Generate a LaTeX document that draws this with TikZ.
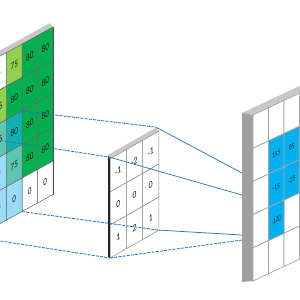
\documentclass[tikz,border=0pt]{standalone}
\usepackage{fontspec}
\setmainfont{Carlito}
\usetikzlibrary{calc}
\definecolor{lgreen}{HTML}{92D050}
\definecolor{dgreen}{HTML}{00B050}
\definecolor{cblue}{HTML}{00B0F0}
\definecolor{tealA}{HTML}{10B0B0}
\definecolor{tealB}{HTML}{5EC6B0}
\definecolor{lblue}{HTML}{9ADCF4}
\definecolor{lineblue}{HTML}{2E75B6}
\definecolor{topgray}{HTML}{C8C8C8}
\definecolor{sidegray}{HTML}{A0A0A0}
\tikzset{
  cellL/.style={draw=black!60, line width=0.5pt},
  cellK/.style={draw=black!45, line width=0.5pt, fill=white},
  cellR/.style={draw=black!35, line width=0.7pt},
  txtL/.style={font=\fontsize{10}{10}\selectfont, text=black!90, inner sep=0pt, cm={0.72,0.5,0,1,(0,0)}},
  txtK/.style={font=\fontsize{10}{10}\selectfont, text=black!90, inner sep=0pt, cm={0.75,0.5,0,1,(0,0)}},
  txtR/.style={font=\fontsize{7.5}{7.5}\selectfont, text=black!85, inner sep=0pt, cm={0.72,0.4,0,1,(0,0)}},
  dashconn/.style={draw=lineblue, line width=0.85pt, dash pattern=on 3pt off 1.2pt},
  solidconn/.style={draw=lineblue, line width=0.75pt},
}
\begin{document}
\begin{tikzpicture}[x=1pt,y=-1pt]
\useasboundingbox (0,0) rectangle (300,300);
\clip (0,0) rectangle (300,300);
\fill[white] (0,0) rectangle (300,300);
% ---------- left panel (input) ----------
\foreach \k in {0,...,5}{\foreach \j in {0,...,5}{
  \coordinate (L\k\j) at ({53-15.5*\k},{27+8.525*\k+33.5*\j});}}
\fill[topgray] (L00) -- (L50) -- ($(L50)+(-3,-4)$) -- ($(L00)+(-3,-4)$) -- cycle;
% cells beyond the left edge of the picture: colour only
\foreach \ry/\ff in {0/white, 1/lgreen, 2/tealB, 3/lblue, 4/lblue}{
  \pgfmathtruncatemacro\rr{\ry+1}
  \filldraw[cellL, fill=\ff] (L4\ry) -- (L5\ry) -- (L5\rr) -- (L4\rr) -- cycle;
}
\foreach \cx/\ry/\ff/\vv in {
 0/0/dgreen/80, 1/0/dgreen/80, 2/0/lgreen/75, 3/0/white/0,
 0/1/dgreen/80, 1/1/dgreen/80, 2/1/dgreen/80, 3/1/lgreen/75,
 0/2/dgreen/80, 1/2/dgreen/80, 2/2/tealA/80, 3/2/tealB/75,
 0/3/dgreen/80, 1/3/dgreen/80, 2/3/tealB/75, 3/3/lblue/0,
 0/4/white/0, 1/4/white/0, 2/4/lblue/0, 3/4/lblue/0}{
  \pgfmathtruncatemacro\cc{\cx+1}
  \pgfmathtruncatemacro\rr{\ry+1}
  \filldraw[cellL, fill=\ff] (L\cx\ry) -- (L\cc\ry) -- (L\cc\rr) -- (L\cx\rr) -- cycle;
  \node[txtL] (lt\cx\ry) at ($(L\cx\ry)!0.5!(L\cc\rr)$) {\vv};
}
\draw[black!70, line width=0.6pt] (L00) -- (L05);
% ---------- kernel ----------
\foreach \k in {0,...,3}{\foreach \j in {0,...,3}{
  \coordinate (K\k\j) at ({110+16.3*\k},{159-9.29*\k+33*\j});}}
\fill[topgray] (K00) -- (K30) -- ($(K30)+(-2,-4)$) -- ($(K00)+(-2,-4)$) -- cycle;
\foreach \cx/\ry/\vv in {0/0/-1, 1/0/-2, 2/0/-1, 0/1/0, 1/1/0, 2/1/0, 0/2/1, 1/2/2, 2/2/1}{
  \pgfmathtruncatemacro\cc{\cx+1}
  \pgfmathtruncatemacro\rr{\ry+1}
  \filldraw[cellK] (K\cx\ry) -- (K\cc\ry) -- (K\cc\rr) -- (K\cx\rr) -- cycle;
  \node[txtK] (kt\cx\ry) at ($(K\cx\ry)!0.5!(K\cc\rr)$) {\vv};
}
\fill[black!85] (K00) -- (K03) -- ($(K03)+(-2,-1)$) -- ($(K00)+(-2,-4)$) -- cycle;
% ---------- right panel (output) ----------
\foreach \k in {0,...,4}{\foreach \j in {0,...,5}{
  \coordinate (R\k\j) at ({253+15.5*\k},{115-7.285*\k+33.2*\j});}}
\fill[topgray] (R00) -- (R40) -- ($(R40)+(-11,-2)$) -- ($(R00)+(-11,-2)$) -- cycle;
\fill[sidegray] (R00) -- (R05) -- ($(R05)+(-11,1)$) -- ($(R00)+(-11,-2)$) -- cycle;
\foreach \cx in {0,...,3}{\foreach \ry in {0,...,4}{
  \pgfmathtruncatemacro\cc{\cx+1}
  \pgfmathtruncatemacro\rr{\ry+1}
  \filldraw[cellR, fill=white] (R\cx\ry) -- (R\cc\ry) -- (R\cc\rr) -- (R\cx\rr) -- cycle;}}
\foreach \cx/\ry/\vv in {1/1/155, 2/1/85, 1/2/-15, 2/2/-25, 1/3/-120}{
  \pgfmathtruncatemacro\cc{\cx+1}
  \pgfmathtruncatemacro\rr{\ry+1}
  \filldraw[cellR, fill=cblue] (R\cx\ry) -- (R\cc\ry) -- (R\cc\rr) -- (R\cx\rr) -- cycle;
  \node[txtR] (rt\cx\ry) at ($(R\cx\ry)!0.5!(R\cc\rr)$) {\vv};
}
% ---------- connectors ----------
\coordinate (kTR) at ($(K30)+(-3,-4)$);
\coordinate (kTL) at ($(K00)+(-1,-2)$);
\coordinate (r1) at (242,173);
\coordinate (r2) at (242,195);
\coordinate (r3) at (242,235);
\coordinate (r4) at (242,240);
\draw[dashconn] (L22) -- (kTR);
\draw[dashconn] (L52) -- (kTL);
\draw[dashconn] (L25) -- (K33);
\draw[dashconn] (L55) -- (K03);
\draw[solidconn] (kTR) -- (r1);
\draw[solidconn] (kTL) -- (r2);
\draw[solidconn] (K33) -- (r3);
\draw[dashconn] (K03) -- (r4);
\end{tikzpicture}
\end{document}
